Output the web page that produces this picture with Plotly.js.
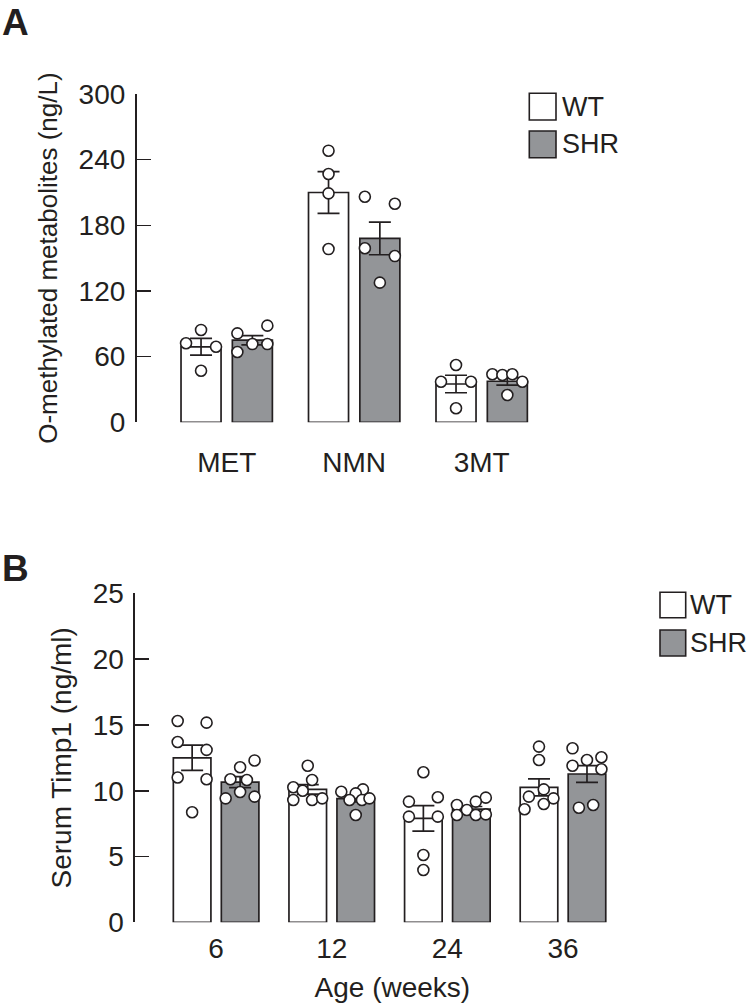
<!DOCTYPE html>
<html>
<head>
<meta charset="utf-8">
<script src="https://cdn.plot.ly/plotly-3.0.1.min.js"></script>
<style>html,body{margin:0;padding:0;background:#fff}#chart{width:750px;height:1008px}</style>
</head>
<body>
<div id="chart"></div>
<script>
// ---------- Panel A data ----------
const catsA = ['MET', 'NMN', '3MT'];
const wtMeanA = [69, 210, 35];
const wtSemA = [7.6, 19, 8];
const shrMeanA = [75, 168, 37.5];
const shrSemA = [4.2, 14.9, 3.6];
const wtPtsA = [[84.4, 72.2, 69, 47.1], [248.2, 226.9, 209.2, 158.3], [52.4, 37.1, 37.1, 12.8]];
const wtJitA = [[0, -1, 1, 0], [0, 0, 0, 0], [0, -1, 1, 0]];
const shrPtsA = [[81.3, 88.3, 71.5, 71.5, 64.2], [206.1, 199.7, 159, 151.9, 127.6], [43.9, 43.2, 43.9, 37.1, 24.9]];
const shrJitA = [[-1, 1, 0, 1, -1], [-1, 1, -1, 1, 0], [-1, -0.33, 0.33, 1, 0]];
const yTicksA = [0, 60, 120, 180, 240, 300];

// ---------- Panel B data ----------
const catsB = ['6', '12', '24', '36'];
const wtMeanB = [12.5, 10.1, 7.9, 10.25];
const wtSemB = [0.96, 0.36, 0.97, 0.65];
const shrMeanB = [10.65, 9.4, 8.6, 11.27];
const shrSemB = [0.42, 0.25, 0.2, 0.63];
const wtPtsB = [[15.3, 15.17, 13.7, 13.1, 11.0, 10.87, 8.36], [11.9, 10.81, 10.26, 10.0, 9.29, 9.29, 9.42], [11.4, 9.5, 9.17, 8.03, 8.03, 5.11, 3.97], [13.35, 12.33, 10.1, 9.55, 9.42, 8.99, 8.59]];
const wtJitB = [[-1, 1, -1, 1, -1, 1, 0], [0, 0.3, -1, -0.35, -1, 0.3, 1], [0, 1, -1, -1, 1, 0, 0], [0, 0, 0.33, -0.7, 1, 0.33, -1]];
const shrPtsB = [[12.3, 11.78, 10.87, 10.81, 9.9, 9.42, 9.55], [9.92, 10.1, 9.8, 9.29, 9.29, 9.42, 8.15], [9.47, 9.17, 8.91, 8.53, 8.15, 8.15, 8.2], [13.22, 12.54, 12.33, 11.9, 11.63, 8.71, 8.91]];
const shrJitB = [[1, 0, -0.67, 0.47, 0, -1, 1], [-1, 0.5, 0, -0.43, 0.43, 0.95, 0], [1, 0.31, -1, -0.31, -1, 0.31, 1], [-1, 1, 0, -1, 1, -0.56, 0.43]];
const yTicksB = [0, 5, 10, 15, 20, 25];

const seriesNames = ['WT', 'SHR'];

// ---------- styling ----------
const INK = '#231f20';
const GRAY = '#939598';
const FONT = 'Liberation Sans, Arial, Helvetica, sans-serif';
const FS = 26;   // legend / panel-A title
const FT = 28;   // tick labels and panel-B titles

const geomA = {w: 0.314, gap: 0.0886, jit: 0.1176};
const geomB = {w: 0.325, gap: 0.09, jit: 0.125};

function makePanel(cats, wtMean, wtSem, shrMean, shrSem, wtPts, wtJit, shrPts, shrJit, g, xa, ya) {
  const xs = cats.map((c, i) => i);
  const cW = -(g.gap / 2 + g.w / 2), cS = (g.gap / 2 + g.w / 2);
  const bar = (y, sem, fill, off, name) => ({
    type: 'bar', name: name, x: xs, y: y, width: g.w, offset: off,
    marker: {color: fill, line: {color: INK, width: 1.7}},
    error_y: {type: 'data', array: sem, visible: true, color: INK, thickness: 1.7, width: 11},
    xaxis: xa, yaxis: ya, showlegend: false, hoverinfo: 'skip'
  });
  const pts = (P, J, c, name) => {
    const x = [], y = [];
    P.forEach((arr, i) => arr.forEach((v, k) => { x.push(i + c + J[i][k] * g.jit); y.push(v); }));
    return {type: 'scatter', mode: 'markers', name: name, x: x, y: y,
      marker: {size: 11, color: '#ffffff', line: {color: INK, width: 1.6}},
      xaxis: xa, yaxis: ya, showlegend: false, hoverinfo: 'skip', cliponaxis: false};
  };
  return [
    bar(wtMean, wtSem, '#ffffff', -(g.gap / 2 + g.w), seriesNames[0]),
    bar(shrMean, shrSem, GRAY, g.gap / 2, seriesNames[1]),
    pts(wtPts, wtJit, cW, seriesNames[0]),
    pts(shrPts, shrJit, cS, seriesNames[1])
  ];
}

const data = [].concat(
  makePanel(catsA, wtMeanA, wtSemA, shrMeanA, shrSemA, wtPtsA, wtJitA, shrPtsA, shrJitA, geomA, 'x', 'y'),
  makePanel(catsB, wtMeanB, wtSemB, shrMeanB, shrSemB, wtPtsB, wtJitB, shrPtsB, shrJitB, geomB, 'x2', 'y2')
);

const W = 750, H = 1008;
const px = v => v / W, py = v => 1 - v / H;

const yBase = {
  ticks: 'inside', ticklen: 14, tickwidth: 1.6, tickcolor: INK,
  showline: true, linecolor: INK, linewidth: 1.6,
  showgrid: false, zeroline: false, fixedrange: true,
  tickfont: {family: FONT, size: FT, color: INK}, ticklabelstandoff: 4
};
const xBase = {
  ticks: '', showline: false, showgrid: false, zeroline: false, fixedrange: true,
  tickfont: {family: FONT, size: FT, color: INK}
};

const layout = {
  width: W, height: H,
  margin: {l: 0, r: 0, t: 0, b: 0},
  paper_bgcolor: '#ffffff', plot_bgcolor: 'rgba(0,0,0,0)',
  barmode: 'overlay',
  font: {family: FONT, size: FS, color: INK},
  showlegend: false,
  xaxis: Object.assign({}, xBase, {
    domain: [px(136.5), px(594)], range: [-0.7075, 2.881], anchor: 'y',
    tickmode: 'array', tickvals: catsA.map((c, i) => i), ticktext: catsA, ticklabelstandoff: 21
  }),
  yaxis: Object.assign({}, yBase, {
    domain: [py(422.3), py(94)], range: [0, 300], anchor: 'x',
    tickmode: 'array', tickvals: yTicksA,
    title: {text: 'O-methylated metabolites (ng/L)', font: {family: FONT, size: FS, color: INK}, standoff: 13}
  }),
  xaxis2: Object.assign({}, xBase, {
    domain: [px(135), px(649.7)], range: [-0.7016, 3.75], anchor: 'y2',
    tickmode: 'array', tickvals: catsB.map((c, i) => i), ticktext: catsB, ticklabelstandoff: 7,
    title: {text: 'Age (weeks)', font: {family: FONT, size: FT, color: INK}, standoff: 14}
  }),
  yaxis2: Object.assign({}, yBase, {
    domain: [py(922.3), py(593.3)], range: [0, 25], anchor: 'x2',
    tickmode: 'array', tickvals: yTicksB,
    title: {text: 'Serum Timp1 (ng/ml)', font: {family: FONT, size: FT, color: INK}, standoff: 13}
  }),
  shapes: [
    {type: 'rect', xref: 'paper', yref: 'paper', x0: px(529.3), x1: px(556), y0: py(120), y1: py(93.3), fillcolor: '#ffffff', line: {color: INK, width: 1.6}},
    {type: 'rect', xref: 'paper', yref: 'paper', x0: px(529.3), x1: px(556), y0: py(157.7), y1: py(131), fillcolor: GRAY, line: {color: INK, width: 1.6}},
    {type: 'rect', xref: 'paper', yref: 'paper', x0: px(660), x1: px(685.7), y0: py(617.7), y1: py(592.3), fillcolor: '#ffffff', line: {color: INK, width: 1.6}},
    {type: 'rect', xref: 'paper', yref: 'paper', x0: px(660), x1: px(685.7), y0: py(656), y1: py(630), fillcolor: GRAY, line: {color: INK, width: 1.6}}
  ],
  annotations: [
    {text: seriesNames[0], xref: 'paper', yref: 'paper', x: px(560), y: py(106.7), xanchor: 'left', yanchor: 'middle', showarrow: false, font: {family: FONT, size: 27, color: INK}},
    {text: seriesNames[1], xref: 'paper', yref: 'paper', x: px(560), y: py(144.3), xanchor: 'left', yanchor: 'middle', showarrow: false, font: {family: FONT, size: 27, color: INK}},
    {text: seriesNames[0], xref: 'paper', yref: 'paper', x: px(688), y: py(605), xanchor: 'left', yanchor: 'middle', showarrow: false, font: {family: FONT, size: 27, color: INK}},
    {text: seriesNames[1], xref: 'paper', yref: 'paper', x: px(688), y: py(643), xanchor: 'left', yanchor: 'middle', showarrow: false, font: {family: FONT, size: 27, color: INK}},
    {text: '<b>A</b>', xref: 'paper', yref: 'paper', x: 0, y: 1, xanchor: 'left', yanchor: 'top', showarrow: false, font: {family: FONT, size: 37, color: INK}},
    {text: '<b>B</b>', xref: 'paper', yref: 'paper', x: 0, y: py(546), xanchor: 'left', yanchor: 'top', showarrow: false, font: {family: FONT, size: 37, color: INK}}
  ]
};

Plotly.newPlot('chart', data, layout, {staticPlot: true, displayModeBar: false});
</script>
</body>
</html>
